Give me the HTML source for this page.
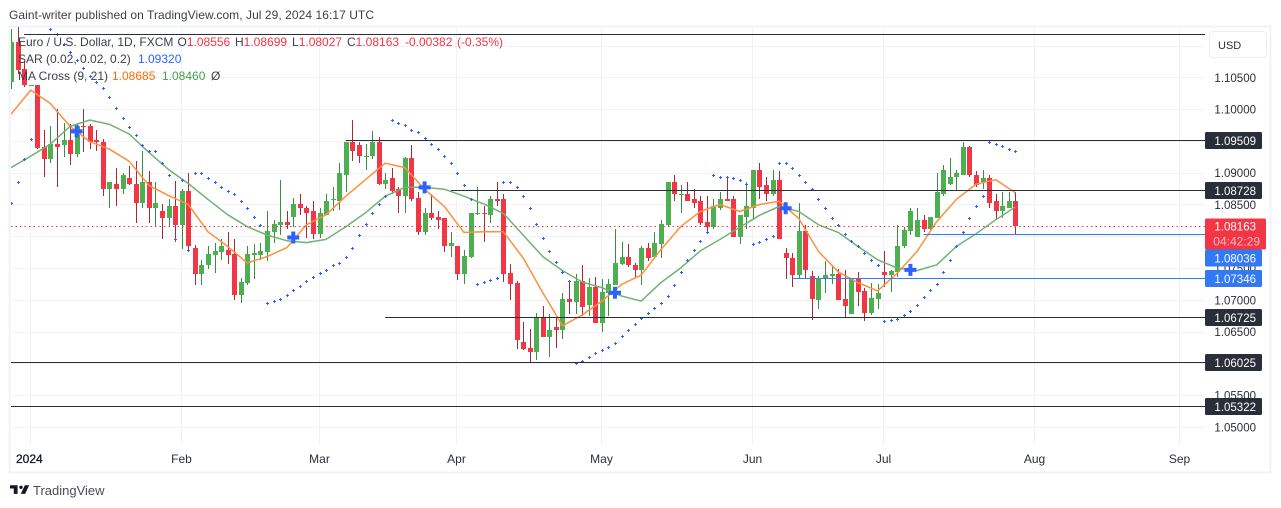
<!DOCTYPE html>
<html lang="en">
<head>
<meta charset="utf-8">
<title>EUR/USD daily chart</title>
<style>
html,body{margin:0;padding:0;background:#fff;width:1281px;height:508px;overflow:hidden}
svg{display:block;font-family:"Liberation Sans",sans-serif}
</style>
</head>
<body>
<svg id="chart" xmlns="http://www.w3.org/2000/svg" width="1281" height="508" viewBox="0 0 1281 508">
<defs><clipPath id="plot-clip"><rect x="11" y="27" width="1194" height="418"/></clipPath></defs>
<rect x="0" y="0" width="1281" height="508" fill="#ffffff"/>
<text x="9" y="19" font-size="12" fill="#3c3f48" textLength="365" lengthAdjust="spacing">Gaint-writer published on TradingView.com, Jul 29, 2024 16:17 UTC</text>
<rect x="9.5" y="26.5" width="1261" height="446" fill="none" stroke="#f0f3fa" stroke-width="2"/>
<g id="grid"></g>
<g id="plot" clip-path="url(#plot-clip)">
<g id="candles"></g>
<g id="mas"></g>
<g id="sar"></g>
<g id="levels"></g>
<g id="crosses"></g>
</g>
<g id="price-axis"></g>
<g id="time-axis"></g>

<g font-size="12">
<text x="18" y="46" fill="#3c3f48">Euro / U.S. Dollar, 1D, FXCM</text>
<text y="46" fill="#f23645"><tspan x="177.5" fill="#3c3f48">O</tspan>1.08556<tspan x="235" fill="#3c3f48">H</tspan>1.08699<tspan x="292" fill="#3c3f48">L</tspan>1.08027<tspan x="347" fill="#3c3f48">C</tspan>1.08163<tspan x="405">-0.00382</tspan><tspan x="457">(-0.35%)</tspan></text>
<text x="18" y="63" fill="#3c3f48">SAR (0.02, 0.02, 0.2)</text>
<text x="138" y="63" fill="#2962ff">1.09320</text>
<text x="18" y="80" fill="#3c3f48">MA Cross (9, 21)</text>
<text x="112" y="80" fill="#ff6d00">1.08685</text>
<text x="162" y="80" fill="#43a047">1.08460</text>
<text x="211" y="80" fill="#3c3f48">Ø</text>
</g>

<g>
<rect x="1209.5" y="31.5" width="57" height="26" rx="4" fill="#ffffff" stroke="#eceef3"/>
<text x="1218" y="49" font-size="11" fill="#2a2e39">USD</text>
</g>

<g>
<path transform="translate(10,482) scale(.54)" d="M14 6H0v6h7v10h7V6zM28 22h-8l7.5-16h8L28 22z" fill="#131722"/>
<circle cx="21" cy="487.3" r="1.7" fill="#131722"/>
<text x="33" y="495" font-size="13" fill="#4a4d57">TradingView</text>
</g>
</svg>
<script>
// Daily OHLC values, one entry per trading day
const opens = [1.1043,1.1106,1.1063,1.1036,1.1038,1.0940,1.0921,1.0945,1.0943,1.0951,
1.0930,1.0973,1.0973,1.0951,1.0949,1.0874,1.0883,1.0875,1.0891,1.0883,
1.0853,1.0885,1.0845,1.0840,1.0829,1.0847,1.0817,1.0872,1.0782,1.0741,
1.0754,1.0771,1.0776,1.0779,1.0772,1.0708,1.0727,1.0771,1.0771,1.0776,
1.0807,1.0818,1.0823,1.0831,1.0851,1.0845,1.0839,1.0804,1.0834,1.0857,
1.0856,1.0897,1.0949,1.0943,1.0926,1.0926,1.0948,1.0882,1.0891,1.0874,
1.0864,1.0923,1.0861,1.0807,1.0837,1.0831,1.0828,1.0785,1.0785,1.0741,
1.0768,1.0835,1.0837,1.0834,1.0859,1.0858,1.0742,1.0727,1.0633,1.0624,
1.0618,1.0673,1.0641,1.0657,1.0652,1.0702,1.0697,1.0730,1.0692,1.0720,
1.0663,1.0711,1.0724,1.0757,1.0768,1.0755,1.0747,1.0782,1.0768,1.0788,
1.0818,1.0885,1.0866,1.0867,1.0858,1.0855,1.0823,1.0814,1.0845,1.0858,
1.0858,1.0799,1.0831,1.0844,1.0905,1.0880,1.0867,1.0888,1.0774,1.0766,
1.0739,1.0809,1.0738,1.0700,1.0733,1.0738,1.0741,1.0702,1.0678,1.0733,
1.0714,1.0679,1.0702,1.0744,1.0739,1.0744,1.0784,1.0809,1.0799,1.0825,
1.0812,1.0829,1.0867,1.0882,1.0893,1.0897,1.0940,1.0897,1.0886,1.0891,
1.0855,1.0839,1.0844,1.08556];
const highs = [1.1126,1.1131,1.1074,1.1038,1.1038,1.0967,1.0973,1.1000,1.0979,1.0976,
1.0976,1.1000,1.0976,1.0968,1.0953,1.0885,1.0907,1.0899,1.0910,1.0918,
1.0934,1.0902,1.0886,1.0851,1.0858,1.0887,1.0875,1.0899,1.0787,1.0763,
1.0785,1.0790,1.0796,1.0806,1.0795,1.0735,1.0785,1.0788,1.0790,1.0839,
1.0825,1.0889,1.0840,1.0861,1.0867,1.0847,1.0856,1.0844,1.0867,1.0877,
1.0916,1.0949,1.0983,1.0949,1.0945,1.0965,1.0956,1.0900,1.0907,1.0877,
1.0924,1.0943,1.0869,1.0844,1.0866,1.0840,1.0828,1.0806,1.0785,1.0779,
1.0837,1.0877,1.0848,1.0863,1.0886,1.0867,1.0757,1.0730,1.0665,1.0654,
1.0679,1.0690,1.0678,1.0671,1.0711,1.0727,1.0741,1.0754,1.0735,1.0736,
1.0733,1.0733,1.0812,1.0791,1.0788,1.0758,1.0785,1.0790,1.0807,1.0826,
1.0886,1.0896,1.0880,1.0885,1.0875,1.0864,1.0863,1.0858,1.0869,1.0893,
1.0863,1.0834,1.0885,1.0905,1.0916,1.0893,1.0904,1.0902,1.0782,1.0774,
1.0853,1.0817,1.0746,1.0738,1.0761,1.0755,1.0749,1.0747,1.0735,1.0744,
1.0719,1.0727,1.0725,1.0777,1.0747,1.0817,1.0814,1.0844,1.0845,1.0834,
1.0831,1.0900,1.0912,1.0923,1.0904,1.0949,1.0942,1.0902,1.0904,1.0897,
1.0867,1.0870,1.0869,1.08699];
const lows = [1.1032,1.1055,1.1035,1.1036,1.0938,1.0894,1.0915,1.0877,1.0924,1.0912,
1.0924,1.0932,1.0937,1.0934,1.0863,1.0845,1.0847,1.0866,1.0880,1.0821,
1.0845,1.0821,1.0815,1.0796,1.0814,1.0791,1.0780,1.0779,1.0724,1.0724,
1.0749,1.0742,1.0763,1.0757,1.0700,1.0695,1.0724,1.0733,1.0763,1.0761,
1.0790,1.0802,1.0812,1.0814,1.0834,1.0798,1.0796,1.0798,1.0833,1.0839,
1.0842,1.0869,1.0919,1.0915,1.0904,1.0921,1.0881,1.0874,1.0867,1.0836,
1.0837,1.0856,1.0802,1.0802,1.0825,1.0812,1.0776,1.0768,1.0731,1.0725,
1.0765,1.0833,1.0791,1.0821,1.0848,1.0728,1.0700,1.0622,1.0621,1.0600,
1.0605,1.0641,1.0610,1.0624,1.0638,1.0678,1.0678,1.0675,1.0675,1.0663,
1.0649,1.0675,1.0724,1.0755,1.0752,1.0735,1.0724,1.0761,1.0766,1.0766,
1.0814,1.0855,1.0836,1.0855,1.0844,1.0818,1.0804,1.0812,1.0842,1.0855,
1.0799,1.0788,1.0812,1.0826,1.0859,1.0855,1.0863,1.0796,1.0733,1.0720,
1.0735,1.0735,1.0668,1.0686,1.0711,1.0725,1.0700,1.0671,1.0678,1.0690,
1.0667,1.0676,1.0686,1.0720,1.0712,1.0736,1.0782,1.0802,1.0799,1.0806,
1.0810,1.0828,1.0863,1.0880,1.0872,1.0896,1.0894,1.0877,1.0874,1.0844,
1.0826,1.0829,1.0844,1.08027];
const closes = [1.1106,1.1062,1.1038,1.1038,1.0939,1.0921,1.0945,1.0940,1.0951,1.0930,
1.0973,1.0972,1.0948,1.0948,1.0874,1.0885,1.0875,1.0897,1.0882,1.0853,
1.0885,1.0845,1.0853,1.0829,1.0847,1.0817,1.0872,1.0785,1.0741,1.0755,
1.0772,1.0777,1.0784,1.0771,1.0708,1.0728,1.0772,1.0774,1.0777,1.0809,
1.0820,1.0823,1.0817,1.0851,1.0844,1.0837,1.0804,1.0837,1.0856,1.0858,
1.0899,1.0949,1.0934,1.0926,1.0927,1.0948,1.0882,1.0888,1.0872,1.0864,
1.0923,1.0859,1.0806,1.0837,1.0829,1.0826,1.0785,1.0790,1.0741,1.0769,
1.0837,1.0836,1.0836,1.0859,1.0856,1.0741,1.0725,1.0637,1.0622,1.0618,
1.0673,1.0641,1.0652,1.0652,1.0702,1.0697,1.0730,1.0689,1.0720,1.0663,
1.0712,1.0725,1.0758,1.0768,1.0754,1.0747,1.0782,1.0766,1.0790,1.0820,
1.0885,1.0866,1.0867,1.0856,1.0853,1.0821,1.0814,1.0847,1.0858,1.0856,
1.0799,1.0833,1.0848,1.0905,1.0878,1.0867,1.0888,1.0796,1.0765,1.0739,
1.0809,1.0747,1.0702,1.0735,1.0739,1.0741,1.0700,1.0690,1.0733,1.0712,
1.0679,1.0703,1.0711,1.0739,1.0746,1.0785,1.0810,1.0839,1.0825,1.0812,
1.0831,1.0869,1.0905,1.0894,1.0900,1.0940,1.0896,1.0880,1.0891,1.0853,
1.0839,1.0847,1.0855,1.08163];
// Parabolic SAR reading per trading day (null where no dot is visible)
const sarValues = [1.0853,1.0886,1.0921,1.0953,null,null,1.1126,1.1119,1.1103,1.1090,
1.1077,1.1065,1.1052,1.1043,1.1033,1.1019,1.1002,1.0986,1.0972,1.0959,
1.0943,1.0934,1.0934,1.0916,1.0897,1.0795,1.0888,1.0779,1.0899,1.0899,
1.0891,1.0885,1.0878,1.0872,1.0866,1.0856,1.0844,1.0831,1.0818,1.0695,
1.0698,1.0701,1.0708,1.0716,1.0722,1.0730,1.0736,1.0742,1.0747,1.0754,
1.0758,1.0768,1.0782,1.0802,1.0820,1.0837,1.0851,1.0864,1.0983,1.0979,
1.0975,1.0968,1.0964,1.0954,1.0945,1.0937,1.0927,1.0916,1.0900,1.0880,
1.0859,1.0725,1.0728,1.0731,1.0735,1.0886,1.0886,1.0878,1.0863,1.0844,
1.0820,1.0798,1.0777,1.0760,1.0744,1.0730,1.0600,1.0603,1.0610,1.0616,
1.0621,1.0626,1.0632,1.0643,1.0652,1.0662,1.0671,1.0679,1.0687,1.0695,
1.0706,1.0724,1.0744,1.0763,1.0779,1.0793,1.0806,1.0896,1.0894,1.0893,
1.0891,1.0889,1.0883,1.0788,1.0791,1.0796,1.0801,1.0916,1.0915,1.0907,
1.0896,1.0885,1.0875,1.0859,1.0844,1.0829,1.0817,1.0804,1.0793,1.0784,
1.0774,1.0763,1.0754,1.0667,1.0668,1.0670,1.0676,1.0682,1.0692,1.0704,
1.0716,1.0725,1.0744,1.0763,1.0785,1.0806,1.0828,1.0847,1.0864,1.0949,
1.0946,1.0942,1.0937,1.0934];
// Moving averages, sampled once every three trading days
const maSampleEvery = 3;
const maFast = [1.0992,1.1030,1.1009,1.0973,1.0949,1.0937,1.0918,1.0880,1.0864,1.0850,
1.0807,1.0784,1.0758,1.0768,1.0782,1.0818,1.0834,1.0863,1.0889,1.0915,
1.0908,1.0874,1.0847,1.0806,1.0807,1.0807,1.0766,1.0711,1.0659,1.0676,
1.0698,1.0724,1.0739,1.0779,1.0815,1.0839,1.0850,1.0839,1.0850,1.0855,
1.0828,1.0776,1.0744,1.0727,1.0714,1.0742,1.0776,1.0823,1.0858,1.0882,
1.0889,1.08685];
const maSlow = [1.0908,1.0926,1.0945,1.0973,1.0983,1.0976,1.0961,1.0932,1.0905,1.0883,
1.0858,1.0834,1.0815,1.0802,1.0793,1.0790,1.0795,1.0815,1.0837,1.0863,
1.0877,1.0877,1.0874,1.0863,1.0851,1.0836,1.0802,1.0768,1.0746,1.0728,
1.0719,1.0706,1.0698,1.0727,1.0750,1.0777,1.0795,1.0814,1.0833,1.0847,
1.0839,1.0818,1.0806,1.0784,1.0763,1.0750,1.0746,1.0755,1.0784,1.0804,
1.0826,1.0846];
// MA cross events
const crossBars = [10,43,63,92,118,137];
const crossPrices = [1.0965,1.0798,1.0877,1.0711,1.0844,1.0747];
// Drawn horizontal levels
const levelPrices = [1.11184,1.09509,1.08728,1.08036,1.07346,1.06725,1.06025,1.05322];
const levelStartBars = [2,51,67,139,119,57,0,0];
const levelKinds = ["dark","dark","dark","blue","blue","dark","dark","dark"];
const levelLabels = ["","1.09509","1.08728","1.08036","1.07346","1.06725","1.06025","1.05322"];
// Axis ticks
const priceTicks = [1.11,1.105,1.10,1.095,1.09,1.085,1.08,1.075,1.07,1.065,1.06,1.055,1.05];
const monthLabels = ["2024","Feb","Mar","Apr","May","Jun","Jul","Aug","Sep"];
const monthBars = [3,26,47,68,90,113,133,156,178];
const lastClose = 1.08163;
const lastCloseLabel = "1.08163";
const countdownLabel = "04:42:29";

const NS = "http://www.w3.org/2000/svg";
const xOf = i => 11 + 6.565 * i;
const yOf = p => 426.85 - (p - 1.05) * 6353;
function make(parent, tag, attrs) {
  const el = document.createElementNS(NS, tag);
  for (const k in attrs) el.setAttribute(k, attrs[k]);
  parent.appendChild(el);
  return el;
}
const grid = document.getElementById("grid");
const candles = document.getElementById("candles");
const mas = document.getElementById("mas");
const sar = document.getElementById("sar");
const levels = document.getElementById("levels");
const crosses = document.getElementById("crosses");
const priceAxis = document.getElementById("price-axis");
const timeAxis = document.getElementById("time-axis");

// gridlines + price ticks
priceTicks.forEach(p => {
  const y = Math.round(yOf(p)) + 0.5;
  const line = make(grid, "line", {x1: 11, x2: 1205, y1: y, y2: y, stroke: "#f0f2f6", "stroke-width": 1});
  
  
  const t = make(priceAxis, "text", {x: 1256, y: yOf(p) + 4.5, "font-size": 11.5, "text-anchor": "end", fill: "#2a2e39"});
  t.textContent = p.toFixed(5);
  
  
});
// month gridlines + labels
monthLabels.forEach((m, k) => {
  const x = Math.round(xOf(monthBars[k])) - 0.5;
  const line = make(grid, "line", {x1: x, x2: x, y1: 27, y2: 445, stroke: "#f0f2f6", "stroke-width": 1});
  
  
  const first = k === 0;
  const t = make(timeAxis, "text", {x: first ? 16 : x, y: 463, "font-size": 12, "text-anchor": first ? "start" : "middle", fill: first ? "#131722" : "#2a2e39", stroke: first ? "#131722" : "none", "stroke-width": first ? 0.3 : 0});
  t.textContent = m;
  
  
});
// candles
opens.forEach((o, i) => {
  const c = closes[i], up = c >= o;
  const cx = Math.round(xOf(i));
  const hy = Math.round(yOf(highs[i])), ly = Math.round(yOf(lows[i]));
  const wick = make(candles, "rect", {x: cx, y: hy, width: 1, height: Math.max(1, ly - hy), fill: up ? "#388e3c" : "#a82a3a"});
  
  
  const top = Math.round(yOf(Math.max(o, c))), bot = Math.round(yOf(Math.min(o, c)));
  const body = make(candles, "rect", {x: cx - 2, y: top, width: 5, height: Math.max(1, bot - top), fill: up ? "#4caf50" : "#f23645"});
  
  
});
// MA lines
const toPath = arr => arr.map((v, k) => (k ? "L" : "M") + xOf(k * maSampleEvery).toFixed(1) + " " + yOf(v).toFixed(1)).join("");
const fastLine = make(mas, "path", {d: toPath(maFast), fill: "none", stroke: "#ff8f3f", "stroke-width": 1.5, "stroke-linejoin": "round"});


const slowLine = make(mas, "path", {d: toPath(maSlow), fill: "none", stroke: "#6fb373", "stroke-width": 1.5, "stroke-linejoin": "round"});


// SAR dots
sarValues.forEach((v, i) => {
  if (v === null) return;
  const x = Math.round(xOf(i)) + 0.5, y = Math.round(yOf(v)) + 0.5;
  const dot = make(sar, "path", {d: `M${x - 1.5} ${y}H${x + 1.5}M${x} ${y - 1.5}V${y + 1.5}`, stroke: "#2962ff", "stroke-width": 1, fill: "none"});
  
  
});
// current price line
const priceLine = make(levels, "line", {x1: 11, x2: 1205, y1: Math.round(yOf(lastClose)) + 0.5, y2: Math.round(yOf(lastClose)) + 0.5, stroke: "#f23645", "stroke-width": 1, "stroke-dasharray": "1.5 3"});


// levels
levelPrices.forEach((p, k) => {
  const y = Math.round(yOf(p)) + 0.5;
  const blue = levelKinds[k] === "blue";
  const line = make(levels, "line", {x1: xOf(levelStartBars[k]), x2: 1206, y1: y, y2: y, stroke: blue ? "#2e7cf6" : "#2a2e39", "stroke-width": 1});
  
  
});
// cross markers
crossBars.forEach((b, k) => {
  const x = xOf(b), y = yOf(crossPrices[k]);
  const plus = make(crosses, "path", {d: `M${x - 6} ${y}H${x + 6}M${x} ${y - 6}V${y + 6}`, stroke: "#2962ff", "stroke-width": 4, fill: "none"});
  
  
});
// last price box sits behind the level labels' stacking order
const yLast = Math.round(yOf(lastClose)) + 0.5;
const lastBoxBottom = yLast + 23;
// level price labels: a label that would collide with the last price box is pushed below it
levelLabels.forEach((txt, k) => {
  if (!txt) return;
  const blue = levelKinds[k] === "blue";
  let y = Math.round(yOf(levelPrices[k])) + 0.5;
  if (y > yLast - 16 && y < lastBoxBottom + 8) y = lastBoxBottom + 8.5;
  const box = make(priceAxis, "rect", {x: 1205, y: y - 8.5, width: 57, height: 17, rx: 1.5, fill: blue ? "#3179f5" : "#2a2e39"});
  
  
  const t = make(priceAxis, "text", {x: 1256, y: y + 4.5, "font-size": 11.5, "text-anchor": "end", fill: "#ffffff"});
  t.textContent = txt;
  
  
});
// last price label
const lastBox = make(priceAxis, "rect", {x: 1205, y: yLast - 8, width: 61, height: 31, rx: 1.5, fill: "#f23645"});


const lastText = make(priceAxis, "text", {x: 1256, y: yLast + 4, "font-size": 11.5, "text-anchor": "end", fill: "#ffffff"});
lastText.textContent = lastCloseLabel;


const cdText = make(priceAxis, "text", {x: 1260, y: yLast + 19, "font-size": 12, "text-anchor": "end", fill: "#ffffff", "fill-opacity": 0.65});
cdText.textContent = countdownLabel;


</script>
</body>
</html>
